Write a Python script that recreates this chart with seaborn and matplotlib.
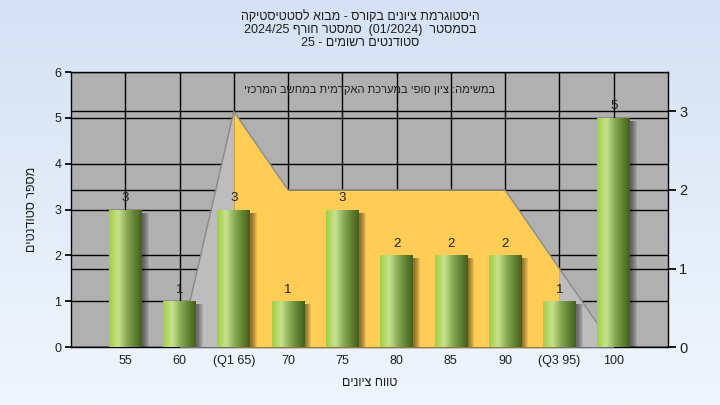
import re
import numpy as np
import pandas as pd
import matplotlib
matplotlib.use("Agg")
import matplotlib.pyplot as plt
import matplotlib.transforms as mtransforms
from matplotlib.colors import LinearSegmentedColormap
from matplotlib.patches import Rectangle
import seaborn as sns

# ---------------- data ----------------
categories = ["55", "60", "(Q1 65)", "70", "75", "80", "85", "90", "(Q3 95)", "100"]
counts = [3, 1, 3, 1, 3, 2, 2, 2, 1, 5]
curve_vals = [0, 0, 3, 2, 2, 2, 2, 2, 1, 0]      # right axis (distribution outline)
q1_index, q3_index = 2, 8
left_ticks = [0, 1, 2, 3, 4, 5, 6]
right_ticks = [0, 1, 2, 3]

title_lines = [
    "היסטוגרמת ציונים בקורס - מבוא לסטטיסטיקה",
    "בסמסטר  (01/2024)  סמסטר חורף 2024/25",
    "סטודנטים רשומים - 25",
]
note_text = "במשימה: ציון סופי במערכת האקדמית במחשב המרכזי"
x_label = "טווח ציונים"
y_label = "מספר סטודנטים"


def vis(s):
    """logical RTL (Hebrew) string -> visual left-to-right order"""
    toks = re.findall(r"[0-9]+(?:[/.][0-9]+)*|.", s)
    mirror = {"(": ")", ")": "("}
    return "".join(mirror.get(t, t) for t in reversed(toks))


sns.set_theme(style="white")
plt.rcParams["font.family"] = ["Liberation Sans", "DejaVu Sans"]
txt_col = "#1e1e1e"

fig = plt.figure(figsize=(7.2, 4.05), dpi=100)

# figure background gradient
bg = fig.add_axes([0, 0, 1, 1], zorder=-5)
grad = np.linspace(0, 1, 256).reshape(-1, 1)
bg_cmap = LinearSegmentedColormap.from_list("bg", ["#d4e2f4", "#f0f6fd"])
bg.imshow(grad, aspect="auto", cmap=bg_cmap, extent=[0, 1, 0, 1], origin="upper")
bg.set_axis_off()

x = np.arange(len(categories))

# base axis: grey background + left scale grid
ax = fig.add_axes([0.0986, 0.143, 0.829, 0.679])
ax.set_facecolor("#b0b0b0")
ax.set_xlim(-1, len(categories))
ax.set_ylim(0, 6)
ax.set_yticks(left_ticks)
ax.grid(True, color="black", linewidth=1.0)
ax.set_axisbelow(True)
for s in ax.spines.values():
    s.set_color("black")
    s.set_linewidth(1.0)
ax.tick_params(axis="y", which="both", left=True, length=4, color="black",
               labelsize=9, labelcolor=txt_col, pad=3)
ax.tick_params(axis="x", length=0, labelsize=9, labelcolor=txt_col, pad=6)
ax.set_ylabel(vis(y_label), fontsize=9, color=txt_col, labelpad=12)

# right-scale axis: distribution outline and its grid
ax2 = ax.twinx()
ax2.set_ylim(0, 3.5)
ax2.set_yticks(right_ticks)
ax2.grid(True, axis="y", color="black", linewidth=1.0)
ax2.set_axisbelow(True)
ax2.tick_params(axis="y", right=True, length=6, color="black", labelsize=10.5,
                labelcolor=txt_col, pad=2)
for s in ax2.spines.values():
    s.set_visible(False)
cv = np.array(curve_vals, dtype=float)
ax2.fill_between(x[: q1_index + 1], 0, cv[: q1_index + 1], color="#bdbdbd",
                 linewidth=0, zorder=1)
ax2.fill_between(x[q3_index:], 0, cv[q3_index:], color="#bdbdbd",
                 linewidth=0, zorder=1)
ax2.fill_between(x[q1_index: q3_index + 1], 0, cv[q1_index: q3_index + 1],
                 color="#ffcc55", linewidth=0, zorder=1.1)
sns.lineplot(x=x, y=cv, ax=ax2, color="#8a8a8a", linewidth=1.0, zorder=1.2,
             legend=False)
ax2.set_ylim(0, 3.5)
ax2.set_xlim(-1, len(categories))

# bars axis
ax3 = ax.twinx()
df = pd.DataFrame({"cat": categories, "n": counts})
sns.barplot(data=df, x="cat", y="n", order=categories, ax=ax3, width=0.6,
            color="#8cb84a", saturation=1, edgecolor="none", zorder=3)
ax3.set_xlim(-1, len(categories))
ax3.set_ylim(0, 6)
ax3.set_autoscale_on(False)
ax3.set_yticks([])
ax3.set_ylabel("")
ax3.set_xlabel("")
for s in ax3.spines.values():
    s.set_visible(False)
ax.set_xticks(x)
ax.set_xticklabels(categories)
ax.set_xlabel(vis(x_label), fontsize=9, color=txt_col, labelpad=7)

bar_cmap = LinearSegmentedColormap.from_list(
    "cyl", [(0.0, "#a2cf44"), (0.28, "#c8e28e"), (0.55, "#86a853"),
            (0.8, "#5f7f30"), (1.0, "#445f1c")])
hgrad = np.linspace(0, 1, 128).reshape(1, -1)
bars = list(ax3.patches)
for p in bars:
    x0, w, h = p.get_x(), p.get_width(), p.get_height()
    # soft shadow
    for k in range(1, 7):
        tr = ax3.transData + mtransforms.ScaledTranslation(
            (k + 1) / 100.0, -3 / 100.0, fig.dpi_scale_trans)
        sh = Rectangle((x0, 0), w, h, transform=tr, facecolor="black",
                       edgecolor="none", alpha=0.085, zorder=2.5)
        ax3.add_patch(sh)
    im = ax3.imshow(hgrad, aspect="auto", cmap=bar_cmap,
                    extent=[x0, x0 + w, 0, h], zorder=3.2)
    im.set_clip_path(p)
    ax3.annotate(str(int(round(h))), (x0 + w / 2, h), xytext=(0, 4),
                 textcoords="offset points", ha="center", va="bottom",
                 fontsize=9.5, color=txt_col, zorder=4)
ax3.set_xlim(-1, len(categories))
ax3.set_ylim(0, 6)

# note inside the plot
ax3.text(0.5, 0.935, vis(note_text), transform=ax.transAxes, ha="center",
         va="center", fontsize=8, color=txt_col, zorder=5)

# title lines
for i, line in enumerate(title_lines):
    fig.text(0.5, 1 - (17 + 13 * i) / 405, vis(line), ha="center", va="center",
             fontsize=9, color=txt_col)

fig.savefig("out.png", dpi=100)
